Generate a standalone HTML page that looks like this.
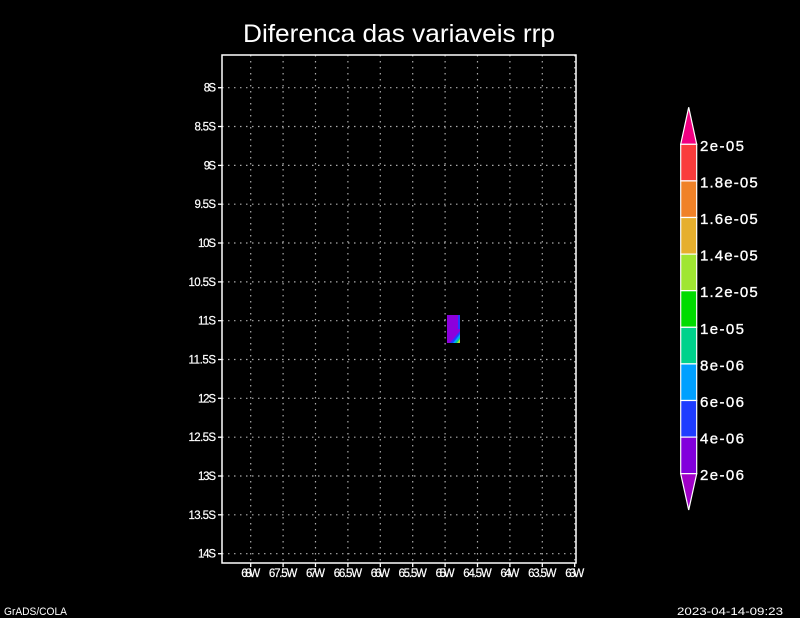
<!DOCTYPE html>
<html><head><meta charset="utf-8"><style>
html,body{margin:0;padding:0;background:#000;}
svg{display:block;}
text{font-family:"Liberation Sans",sans-serif;fill:#fff;}
</style></head><body>
<svg width="800" height="618" viewBox="0 0 800 618" xmlns="http://www.w3.org/2000/svg">
<rect width="800" height="618" fill="#000"/>
<text x="399" y="42" font-size="25" textLength="312" lengthAdjust="spacingAndGlyphs" text-anchor="middle">Diferenca das variaveis rrp</text>
<g stroke="#aaaaaa" stroke-width="1.2" stroke-dasharray="1.5 4.5" fill="none">
<line x1="222" y1="87.7" x2="576" y2="87.7"/>
<line x1="222" y1="126.5" x2="576" y2="126.5"/>
<line x1="222" y1="165.4" x2="576" y2="165.4"/>
<line x1="222" y1="204.2" x2="576" y2="204.2"/>
<line x1="222" y1="243" x2="576" y2="243"/>
<line x1="222" y1="281.9" x2="576" y2="281.9"/>
<line x1="222" y1="320.7" x2="576" y2="320.7"/>
<line x1="222" y1="359.5" x2="576" y2="359.5"/>
<line x1="222" y1="398.3" x2="576" y2="398.3"/>
<line x1="222" y1="437.2" x2="576" y2="437.2"/>
<line x1="222" y1="476" x2="576" y2="476"/>
<line x1="222" y1="514.8" x2="576" y2="514.8"/>
<line x1="222" y1="553.7" x2="576" y2="553.7"/>
<line x1="250.7" y1="55" x2="250.7" y2="563"/>
<line x1="283.1" y1="55" x2="283.1" y2="563"/>
<line x1="315.5" y1="55" x2="315.5" y2="563"/>
<line x1="347.9" y1="55" x2="347.9" y2="563"/>
<line x1="380.3" y1="55" x2="380.3" y2="563"/>
<line x1="412.7" y1="55" x2="412.7" y2="563"/>
<line x1="445.1" y1="55" x2="445.1" y2="563"/>
<line x1="477.5" y1="55" x2="477.5" y2="563"/>
<line x1="509.9" y1="55" x2="509.9" y2="563"/>
<line x1="542.3" y1="55" x2="542.3" y2="563"/>
<line x1="574.7" y1="55" x2="574.7" y2="563"/>
</g>
<!-- data patch -->
<rect x="447" y="315" width="13" height="28" fill="#8c00dc"/>
<rect x="458" y="315" width="2" height="14" fill="#1e3cff"/>
<polygon points="460,331 460,343 450,343" fill="#1e3cff"/>
<polygon points="460,334 460,343 453,343" fill="#00a0ff"/>
<polygon points="460,337 460,343 455,343" fill="#00d28c"/>
<polygon points="460,339 460,343 457,343" fill="#a0e632"/>
<polygon points="460,341 460,343 459,343" fill="#e6af2d"/>
<!-- frame -->
<rect x="222" y="55" width="354" height="508" fill="none" stroke="#fff" stroke-width="1.5"/>
<g stroke="#fff" stroke-width="1.3">
<line x1="218" y1="87.7" x2="222" y2="87.7"/>
<line x1="218" y1="126.5" x2="222" y2="126.5"/>
<line x1="218" y1="165.4" x2="222" y2="165.4"/>
<line x1="218" y1="204.2" x2="222" y2="204.2"/>
<line x1="218" y1="243" x2="222" y2="243"/>
<line x1="218" y1="281.9" x2="222" y2="281.9"/>
<line x1="218" y1="320.7" x2="222" y2="320.7"/>
<line x1="218" y1="359.5" x2="222" y2="359.5"/>
<line x1="218" y1="398.3" x2="222" y2="398.3"/>
<line x1="218" y1="437.2" x2="222" y2="437.2"/>
<line x1="218" y1="476" x2="222" y2="476"/>
<line x1="218" y1="514.8" x2="222" y2="514.8"/>
<line x1="218" y1="553.7" x2="222" y2="553.7"/>
<line x1="250.7" y1="563" x2="250.7" y2="567"/>
<line x1="283.1" y1="563" x2="283.1" y2="567"/>
<line x1="315.5" y1="563" x2="315.5" y2="567"/>
<line x1="347.9" y1="563" x2="347.9" y2="567"/>
<line x1="380.3" y1="563" x2="380.3" y2="567"/>
<line x1="412.7" y1="563" x2="412.7" y2="567"/>
<line x1="445.1" y1="563" x2="445.1" y2="567"/>
<line x1="477.5" y1="563" x2="477.5" y2="567"/>
<line x1="509.9" y1="563" x2="509.9" y2="567"/>
<line x1="542.3" y1="563" x2="542.3" y2="567"/>
<line x1="574.7" y1="563" x2="574.7" y2="567"/>
</g>
<g font-size="11.5" text-anchor="end" lengthAdjust="spacingAndGlyphs" stroke="#fff" stroke-width="0.2">
<text x="216" y="91.7" textLength="12.2">8S</text>
<text x="216" y="130.5" textLength="21.5">8.5S</text>
<text x="216" y="169.4" textLength="12.2">9S</text>
<text x="216" y="208.2" textLength="21.5">9.5S</text>
<text x="216" y="247" textLength="18">10S</text>
<text x="216" y="285.9" textLength="27.5">10.5S</text>
<text x="216" y="324.7" textLength="18">11S</text>
<text x="216" y="363.5" textLength="27.5">11.5S</text>
<text x="216" y="402.3" textLength="18">12S</text>
<text x="216" y="441.2" textLength="27.5">12.5S</text>
<text x="216" y="480" textLength="18">13S</text>
<text x="216" y="518.8" textLength="27.5">13.5S</text>
<text x="216" y="557.7" textLength="18">14S</text>
</g>
<g font-size="11.5" text-anchor="middle" lengthAdjust="spacingAndGlyphs" stroke="#fff" stroke-width="0.2">
<text x="250.7" y="577" textLength="19">68W</text>
<text x="283.1" y="577" textLength="28.4">67.5W</text>
<text x="315.5" y="577" textLength="19">67W</text>
<text x="347.9" y="577" textLength="28.4">66.5W</text>
<text x="380.3" y="577" textLength="19">66W</text>
<text x="412.7" y="577" textLength="28.4">65.5W</text>
<text x="445.1" y="577" textLength="19">65W</text>
<text x="477.5" y="577" textLength="28.4">64.5W</text>
<text x="509.9" y="577" textLength="19">64W</text>
<text x="542.3" y="577" textLength="28.4">63.5W</text>
<text x="574.7" y="577" textLength="19">63W</text>
</g>
<!-- colorbar -->
<g stroke="#fff" stroke-width="1.2">
<polygon points="680.7,144.3 696.7,144.3 688.7,107.3" fill="#f00082"/>
<rect x="680.7" y="144.3" width="16" height="36.6" fill="#fa3c3c"/>
<rect x="680.7" y="180.9" width="16" height="36.6" fill="#f08228"/>
<rect x="680.7" y="217.5" width="16" height="36.6" fill="#e6af2d"/>
<rect x="680.7" y="254.1" width="16" height="36.6" fill="#a0e632"/>
<rect x="680.7" y="290.7" width="16" height="36.6" fill="#00dc00"/>
<rect x="680.7" y="327.3" width="16" height="36.6" fill="#00d28c"/>
<rect x="680.7" y="363.9" width="16" height="36.6" fill="#00a0ff"/>
<rect x="680.7" y="400.5" width="16" height="36.6" fill="#1e3cff"/>
<rect x="680.7" y="437.1" width="16" height="36.6" fill="#8200dc"/>
<polygon points="680.7,473.7 696.7,473.7 688.7,510" fill="#a000c8"/>
</g>
<g font-size="15" lengthAdjust="spacingAndGlyphs" stroke="#fff" stroke-width="0.35">
<text x="700" y="150.8" textLength="44">2e-05</text>
<text x="700" y="187.4" textLength="57.7">1.8e-05</text>
<text x="700" y="224" textLength="57.7">1.6e-05</text>
<text x="700" y="260.6" textLength="57.7">1.4e-05</text>
<text x="700" y="297.2" textLength="57.7">1.2e-05</text>
<text x="700" y="333.8" textLength="44">1e-05</text>
<text x="700" y="370.4" textLength="44">8e-06</text>
<text x="700" y="407" textLength="44">6e-06</text>
<text x="700" y="443.6" textLength="44">4e-06</text>
<text x="700" y="480.2" textLength="44">2e-06</text>
</g>
<text x="4" y="615" font-size="11" textLength="63" lengthAdjust="spacingAndGlyphs">GrADS/COLA</text>
<text x="677" y="615" font-size="11" textLength="106" lengthAdjust="spacingAndGlyphs">2023-04-14-09:23</text>
</svg>
</body></html>
